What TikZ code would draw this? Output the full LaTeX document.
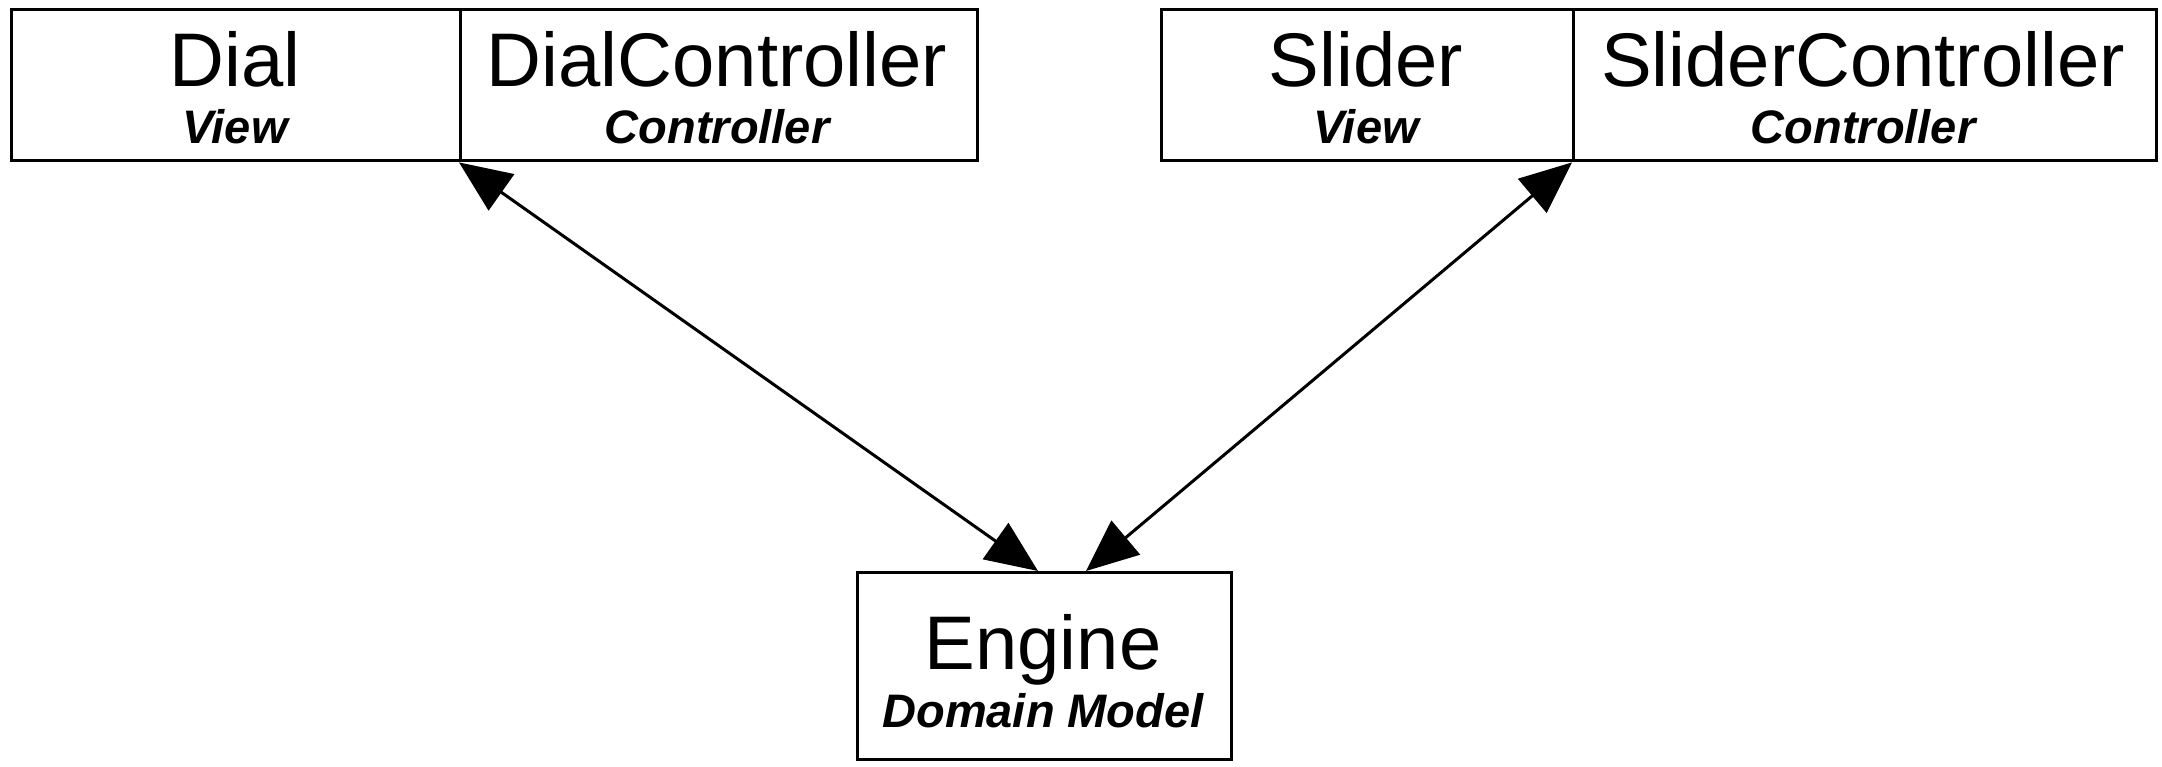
\documentclass[tikz,border=0pt]{standalone}
\usepackage{fontspec}
\setmainfont{Liberation Sans}
\usetikzlibrary{arrows.meta}
\begin{document}
\begin{tikzpicture}[x=0.5pt,y=-0.5pt,
  box/.style={draw=black,line width=1.7pt,minimum width=#1,inner sep=0pt,minimum height=75.5pt},
  ttl/.style={anchor=base,font=\fontsize{38}{40}\selectfont,inner sep=0pt},
  sub/.style={anchor=base,font=\fontsize{23.5}{25}\selectfont\bfseries\itshape,inner sep=0pt},
  conn/.style={line width=1.5pt,{Triangle[length=26pt,width=22pt]}-{Triangle[length=26pt,width=22pt]}}]
\useasboundingbox (0,0) rectangle (2162,766);
\node[box=224.5pt,anchor=north west] (dial) at (10,8) {};
\node[box=258.5pt,anchor=north west] (dc) at (459,8) {};
\node[box=206pt,anchor=north west] (sl) at (1160,8) {};
\node[box=291.5pt,anchor=north west] (sc) at (1572,8) {};
\node[draw=black,line width=1.7pt,minimum width=187pt,minimum height=93.5pt,inner sep=0pt,anchor=north west] (eng) at (856,571) {};
\node[ttl] (t1) at (235,86) {Dial};
\node[sub] (s1) at (235,143) {View};
\node[ttl] (t2) at (717,86) {DialController};
\node[sub] (s2) at (717,143) {Controller};
\node[ttl] (t3) at (1366,86) {Slider};
\node[sub] (s3) at (1366,143) {View};
\node[ttl] (t4) at (1863,86) {SliderController};
\node[sub] (s4) at (1863,143) {Controller};
\node[ttl] (t5) at (1043,669) {Engine};
\node[sub] (s5) at (1043,727) {Domain Model};
\coordinate (e1) at (1038,571);
\coordinate (e2) at (1086,571);
\draw[conn] (dc.south west) -- (e1);
\draw[conn] (sc.south west) -- (e2);
\end{tikzpicture}
\end{document}
